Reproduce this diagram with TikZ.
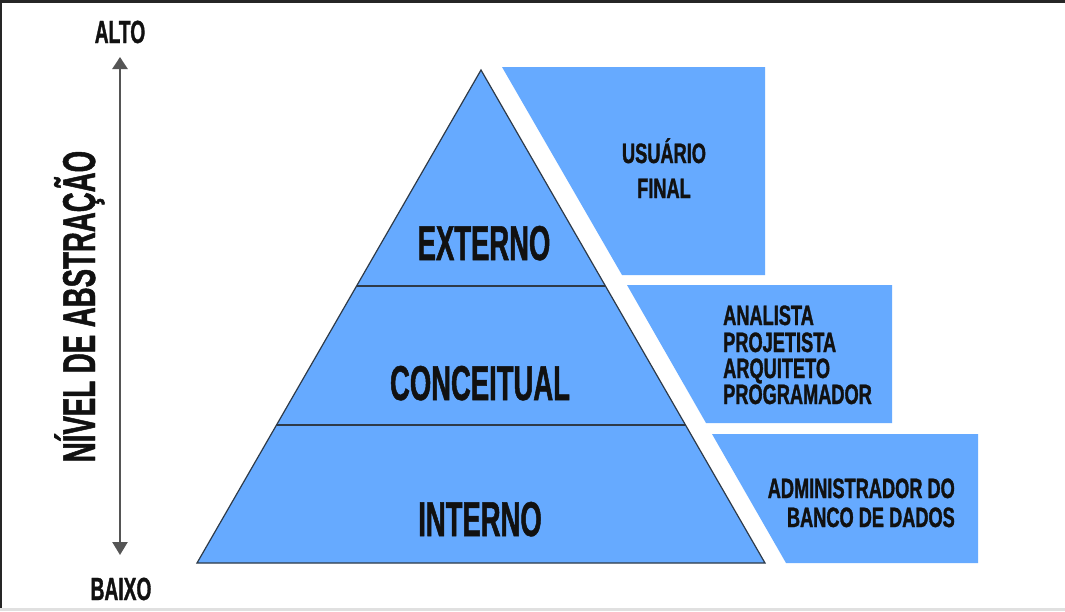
\documentclass[tikz,border=0pt]{standalone}
\usepackage{fontspec}
\setmainfont{Liberation Sans}
\newfontfamily\bigf{Liberation Sans}[FakeStretch=0.56,FakeBold=1]
\newfontfamily\smf{Liberation Sans}[FakeStretch=0.6,FakeBold=1]
\newfontfamily\boxf{Liberation Sans}[FakeStretch=0.65,FakeBold=1.2]
\usetikzlibrary{arrows.meta}
\definecolor{pyblue}{HTML}{66AAFF}
\definecolor{edge}{HTML}{2E3A48}
\definecolor{axis}{HTML}{555555}
\definecolor{ink}{HTML}{111111}
\tikzset{
  bigtxt/.style={font=\bigf\bfseries\fontsize{49}{56}\selectfont, text=ink, inner sep=0pt, anchor=base},
  smtxt/.style={font=\boxf\bfseries\fontsize{28}{34}\selectfont, text=ink, inner sep=0pt, anchor=base},
  axtxt/.style={font=\smf\bfseries\fontsize{32}{38}\selectfont, text=ink, inner sep=0pt, anchor=base},
  rolebox/.style={fill=pyblue, draw=none},
  divider/.style={draw=edge, line width=1.5pt}
}
\begin{document}
\begin{tikzpicture}[x=1pt,y=-1pt]
\useasboundingbox (0,0) rectangle (1065,611);
\fill[white] (0,0) rectangle (1065,611);
% screenshot frame
\fill[black!85] (0,0) rectangle (1065,3);
\fill[black!85] (0,0) rectangle (2,611);
\fill[black!12] (0,608) rectangle (1065,611);

% axis
\coordinate (top) at (120,57);
\coordinate (bot) at (120,555);
\draw[axis, line width=2.5pt, {Triangle[width=15pt,length=12pt]}-{Triangle[width=15pt,length=13pt]}] (top) -- (bot);
\node[axtxt] (alto) at (120,43) {ALTO};
\node[axtxt] (baixo) at (121,600) {BAIXO};
\node[axtxt, font=\smf\bfseries\fontsize{46}{52}\selectfont, rotate=90] (nivel) at (95,306.5) {NÍVEL DE ABSTRAÇÃO};

% pyramid
\coordinate (apex) at (481,70);
\coordinate (bl) at (197,563);
\coordinate (br) at (765,563);
\filldraw[fill=pyblue, draw=edge, line width=1.2pt, line join=miter] (apex) -- (br) -- (bl) -- cycle;
\draw[divider] (357,286) -- (605,286);
\draw[divider] (276.5,425) -- (685.5,425);
\node[bigtxt] (externo) at (484,260) {EXTERNO};
\node[bigtxt] (conceitual) at (480,400) {CONCEITUAL};
\node[bigtxt] (interno) at (480,536) {INTERNO};

% role boxes
\fill[rolebox] (502,67) -- (765,67) -- (765,275) -- (622,275) -- cycle;
\fill[rolebox] (627,285) -- (892,285) -- (892,423) -- (706,423) -- cycle;
\fill[rolebox] (712,434) -- (978,434) -- (978,563) -- (786,563) -- cycle;

\node[smtxt] (usuario) at (664,163) {USUÁRIO};
\node[smtxt] (final) at (664,198) {FINAL};

\node[smtxt, anchor=base west] (analista) at (723,325) {ANALISTA};
\node[smtxt, anchor=base west] (projetista) at (723,352) {PROJETISTA};
\node[smtxt, anchor=base west] (arquiteto) at (723,378) {ARQUITETO};
\node[smtxt, anchor=base west] (programador) at (723,404) {PROGRAMADOR};

\node[smtxt, anchor=base east] (admin) at (955,498) {ADMINISTRADOR DO};
\node[smtxt, anchor=base east] (banco) at (955,527) {BANCO DE DADOS};
\end{tikzpicture}
\end{document}
